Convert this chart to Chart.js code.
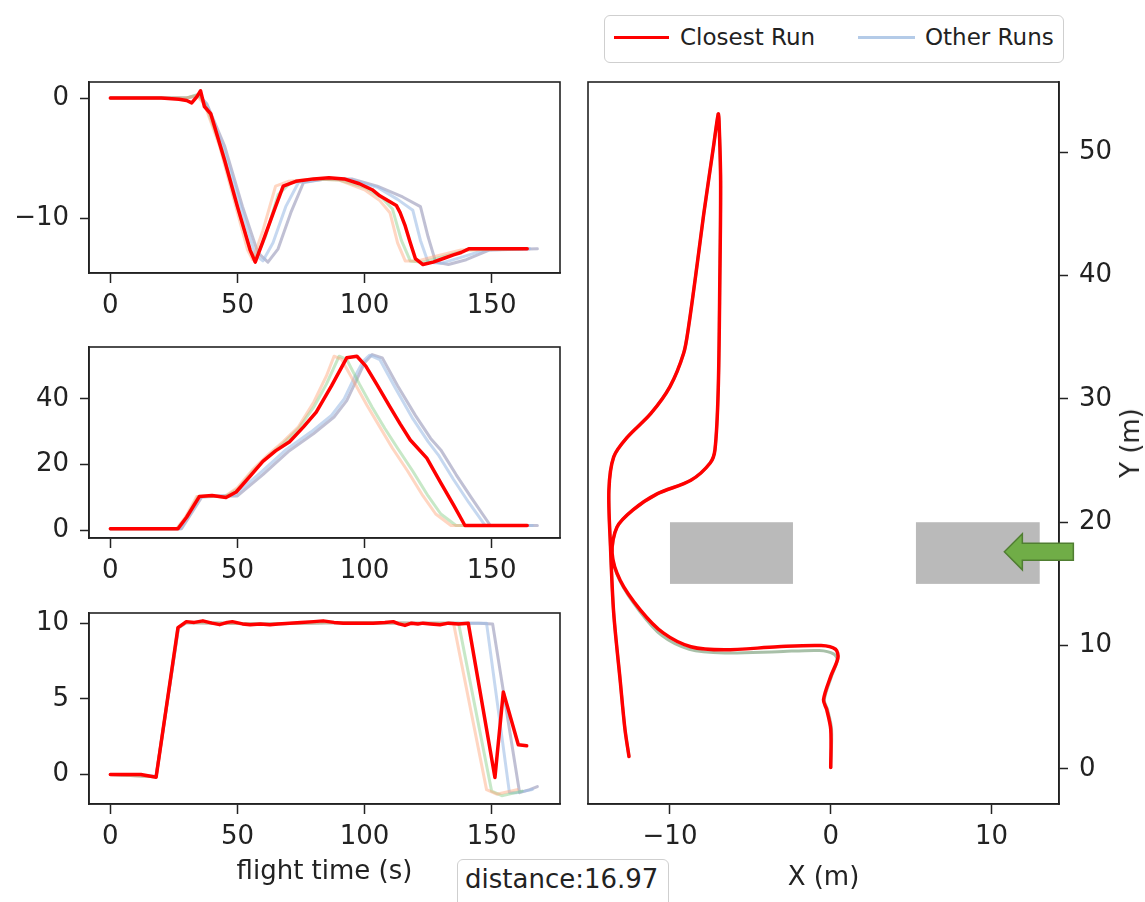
<!DOCTYPE html>
<html>
<head>
<meta charset="utf-8">
<script src="https://cdn.jsdelivr.net/npm/chart.js@4"></script>
<style>
  body { margin:0; background:#fff; width:1145px; height:902px; overflow:hidden; position:relative; font-family:'DejaVu Sans', sans-serif; color:#222; }
  canvas { position:absolute; }
  .box { position:absolute; border:1px solid #cfcfcf; border-radius:6px; background:#fff; }
  .legline { position:absolute; height:3px; }
  .legtxt { position:absolute; font-size:23px; line-height:28px; }
</style>
</head>
<body>
<canvas id="cx" width="570" height="250" style="left:0;top:72px"></canvas>
<canvas id="cy" width="570" height="250" style="left:0;top:337px"></canvas>
<canvas id="cz" width="570" height="299" style="left:0;top:603px"></canvas>
<canvas id="cxy" width="567" height="830" style="left:578px;top:72px"></canvas>

<div class="box" style="left:604px;top:15px;width:458px;height:46px;"></div>
<div class="legline" style="left:614px;top:36px;width:55px;background:#ff0000;"></div>
<div class="legtxt" style="left:680px;top:23px;">Closest Run</div>
<div class="legline" style="left:858px;top:36px;width:57px;background:#b4cbe8;"></div>
<div class="legtxt" style="left:925px;top:23px;">Other Runs</div>

<div class="box" style="left:457px;top:859px;width:210px;height:60px;"></div>
<div style="position:absolute;left:465px;top:864px;font-size:26px;line-height:30px;">distance:16.97</div>
<div style="position:absolute;left:1130px;top:443px;font-size:26px;white-space:nowrap;transform:translate(-50%,-50%) rotate(-90deg);">Y (m)</div>

<script>
// ---- time axis ticks / tick labels
const timeTicks = [0, 50, 100, 150];
const xTicks = [-10, 0];
const yTicks = [0, 20, 40];
const zTicks = [0, 5, 10];
const mapXTicks = [-10, 0, 10];
const mapYTicks = [0, 10, 20, 30, 40, 50];

// ---- X position vs flight time
const closestTx = [0, 10, 20, 27, 30, 32, 34, 35.5, 37, 39.5, 45, 50, 55, 57, 60, 65, 68, 73, 80, 86, 92, 98, 103, 106, 110, 112.5, 114, 116, 118, 120, 123, 127, 131, 135, 138, 141, 150, 164];
const closestX  = [0, 0, 0, -0.1, -0.2, -0.4, 0.1, 0.6, -0.7, -1.3, -5.2, -9, -12.6, -13.6, -11.9, -9, -7.3, -6.9, -6.7, -6.6, -6.7, -7.1, -7.6, -8.1, -8.6, -8.9, -9.5, -10.6, -12.0, -13.3, -13.8, -13.6, -13.3, -13.0, -12.8, -12.5, -12.5, -12.5];
const runATx = [0, 30, 34, 37, 43, 50, 54, 56, 60, 65, 70, 80, 90, 100, 106, 110, 113, 116, 121, 128, 138, 160];
const runAX  = [0, 0, 0.2, -0.5, -4, -9.5, -12.6, -13.4, -11, -7.3, -6.9, -6.7, -6.8, -7.6, -8.5, -9.5, -12, -13.5, -13.5, -13.1, -12.6, -12.5];
const runBTx = [0, 30, 34.5, 37.5, 44, 50, 55, 57, 61, 66, 71, 80, 90, 100, 107, 111, 114.5, 118, 123, 130, 140, 162];
const runBX  = [0, 0, 0.3, -0.6, -4.3, -9, -12.6, -13.4, -11.5, -8, -7, -6.7, -6.8, -7.4, -8.3, -9.2, -11.8, -13.5, -13.6, -13.2, -12.6, -12.5];
const runCTx = [0, 30, 35, 38, 45, 52, 57, 60, 64, 69, 74, 85, 95, 105, 113, 119, 122, 125, 130, 138, 147, 165];
const runCX  = [0, 0, 0.3, -0.6, -4.5, -9.5, -13, -13.5, -12, -9, -7, -6.7, -6.8, -7.4, -8.4, -9.3, -11.8, -13.6, -13.7, -13.2, -12.6, -12.5];
const runDTx = [0, 30, 35, 38, 45, 52, 58, 62, 66, 71, 76, 85, 95, 105, 115, 122, 125, 128, 133, 140, 149, 168];
const runDX  = [0, 0, 0.2, -0.5, -4, -9, -12.8, -13.6, -12.5, -9.5, -7.0, -6.7, -6.7, -7.3, -8.2, -9.0, -11.5, -13.6, -13.8, -13.4, -12.6, -12.5];

// ---- Y position vs flight time
const closestTy = [0, 26.6, 30, 35, 40, 45.5, 49.5, 55, 60, 65, 70.5, 76, 81, 87, 93, 97, 100.5, 105, 110, 114, 118, 124.5, 130, 135, 139.5, 150, 164];
const closestY  = [0.5, 0.5, 4, 10.3, 10.6, 10, 11.7, 16.5, 21, 24.2, 27, 31.5, 36, 44, 52.5, 53, 50, 44.2, 37.6, 32.4, 27.5, 22, 14.5, 7.8, 1.5, 1.5, 1.5];
const runATy = [0, 26, 29.5, 34, 40, 45, 50, 56, 62, 68, 74, 80, 85, 88, 91, 96, 101, 106, 111, 117, 123, 128, 134, 160];
const runAY  = [0.5, 0.5, 4, 10.3, 10.5, 10.3, 13, 18.5, 23, 27, 31.5, 39, 47, 53, 52, 45, 38, 31.5, 25, 18, 10.5, 5, 1.5, 1.5];
const runBTy = [0, 26.3, 30, 34.5, 40, 45, 50, 56, 62, 68, 74, 80, 85, 90, 93, 98, 103, 108, 113, 119, 125, 130, 136, 162];
const runBY  = [0.5, 0.5, 4.2, 10.3, 10.5, 10.2, 12.5, 18, 22.5, 26.5, 31, 37.5, 44.5, 53, 52, 44.5, 37.5, 31, 25, 18, 10.5, 5, 1.5, 1.5];
const runCTy = [0, 27.5, 35.5, 41, 49, 59, 69, 79, 87, 92, 96, 99.5, 102, 106, 112, 119, 125, 129, 135, 141, 147.5, 166];
const runCY  = [0.5, 0.5, 10.2, 10.5, 10.8, 17.5, 24.5, 30, 35, 40, 46.5, 51.5, 53.3, 52, 43.5, 34, 27, 23, 15.5, 8.5, 1.5, 1.5];
const runDTy = [0, 28, 36, 42, 50, 60, 70, 80, 88, 93, 97, 100, 103, 107, 113, 120, 126, 130, 136, 142, 149.5, 168];
const runDY  = [0.5, 0.5, 10.2, 10.4, 10.5, 17, 24, 29.5, 34.5, 39.5, 46, 51, 53.5, 52.5, 44, 35, 28, 24.5, 17, 10, 1.5, 1.5];

// ---- altitude vs flight time
const closestTz = [0, 12, 18, 26.6, 29.9, 33, 36.4, 40, 43, 46, 48, 52, 55, 59, 62.8, 66, 70.6, 75, 80, 83.7, 88, 91.6, 97, 103.4, 108, 111.3, 113.5, 115.9, 118.5, 121, 123, 126, 129.7, 133, 137, 140.8, 151.3, 154.6, 160.5, 163.8];
const closestZ  = [0, 0, -0.18, 9.7, 10.1, 10.05, 10.15, 10.0, 9.9, 10.05, 10.1, 9.95, 9.9, 9.95, 9.9, 9.95, 10.0, 10.05, 10.1, 10.15, 10.05, 10.0, 10.0, 10.0, 10.05, 10.1, 9.95, 9.85, 10.0, 9.95, 10.0, 9.95, 9.9, 10.0, 9.95, 10.0, -0.2, 5.45, 1.96, 1.9];
const runATz = [0, 18, 26.6, 30, 60, 90, 120, 135, 148, 152, 160];
const runAZ  = [0, -0.15, 9.7, 10.05, 9.95, 10.05, 10.0, 10.0, -1.0, -1.3, -1.0];
const runBTz = [0, 18, 26.6, 30, 60, 90, 120, 137, 150, 154, 162];
const runBZ  = [0, -0.15, 9.7, 10.05, 9.95, 10.05, 10.0, 10.0, -1.1, -1.4, -1.1];
const runCTz = [0, 18, 26.8, 30, 60, 90, 120, 145, 148, 157, 160, 166];
const runCZ  = [0, -0.1, 9.7, 10.05, 9.95, 10.05, 10.0, 10.0, 10.0, -1.2, -1.2, -1.0];
const runDTz = [0, 18, 26.8, 30, 60, 90, 120, 145, 150.4, 161, 165, 168];
const runDZ  = [0, -0.15, 9.7, 10.05, 9.95, 10.05, 10.0, 10.0, 9.95, -1.2, -1.0, -0.8];

// ---- top-down trajectory (X, Y in metres)
const closestMapX = [0, 0, -0.25, -0.45, 0, 0.45, 0.3, -0.6, -3.3, -6.6, -8.7, -10.4, -11.85, -13.1, -13.6, -13.3, -12.3, -10.8, -8.7, -7.5, -7.2, -7.0, -6.9, -6.85, -6.95, -7.0, -7.3, -7.9, -8.3, -8.85, -9.15, -10.0, -11.2, -12.65, -13.5, -13.8, -13.7, -13.5, -13.1, -12.8, -12.55];
const closestMapY = [0.1, 3.2, 4.8, 5.6, 7.5, 9.0, 9.7, 10.0, 9.9, 9.65, 9.9, 11.0, 12.9, 15.3, 17.5, 19.6, 21.0, 22.3, 23.4, 24.8, 25.9, 30.7, 39.6, 47.7, 52.6, 53.1, 50.4, 45.0, 41.0, 35.8, 33.7, 31.0, 28.8, 26.9, 25.3, 22.6, 18.0, 12.6, 7.2, 3.2, 1.0];
const otherMapX = [0, 0.05, -0.2, -0.4, 0.05, 0.4, 0.2, -0.7, -3.3, -6.6, -8.8, -10.5, -11.9, -13.1, -13.6, -13.3, -12.3, -10.8, -8.7, -7.5, -7.2, -7.0, -6.9, -6.85, -6.95, -7.0, -7.3, -7.9, -8.3, -8.85, -9.15, -10.0, -11.2, -12.65, -13.5, -13.8, -13.7, -13.5, -13.1, -12.8, -12.55];
const otherMapY = [0.1, 3.2, 4.8, 5.6, 7.5, 8.8, 9.3, 9.6, 9.5, 9.4, 9.7, 10.8, 12.8, 15.2, 17.4, 19.6, 21.0, 22.3, 23.4, 24.8, 25.9, 30.7, 39.6, 47.7, 52.6, 53.1, 50.4, 45.0, 41.0, 35.8, 33.7, 31.0, 28.8, 26.9, 25.3, 22.6, 18.0, 12.6, 7.2, 3.2, 1.0];

// obstacles: [xMin, xMax, yMin, yMax]
const obstacles = [[-10, -2.35, 15, 20], [5.3, 13, 15, 20]];
const arrowTip = [10.8, 17.6];

const runColors = ['#ff0000', 'rgba(255,165,120,0.45)', 'rgba(130,205,130,0.45)', 'rgba(160,190,230,0.6)', 'rgba(130,130,170,0.5)'];

Chart.defaults.font.family = "'DejaVu Sans', sans-serif";
Chart.defaults.font.size = 26;
Chart.defaults.color = '#222';

const pts = (xs, ys) => xs.map((v, i) => ({ x: v, y: ys[i] }));
const fmt = v => String(v).replace('-', '\u2212');

const framePlugin = {
  id: 'frame',
  afterDraw(chart) {
    const { ctx, chartArea: a } = chart;
    ctx.save();
    ctx.strokeStyle = '#222';
    ctx.lineWidth = 1.6;
    ctx.strokeRect(a.left, a.top, a.right - a.left, a.bottom - a.top);
    ctx.restore();
  }
};

function axis(min, max, ticks, pos, size, tickPad, title) {
  const horiz = pos === 'bottom';
  return {
    type: 'linear', position: pos, min: min, max: max,
    afterBuildTicks: s => { s.ticks = ticks.map(v => ({ value: v })); },
    afterFit: s => {
      if (horiz) s.height = size; else s.width = size;
      // keep the plot box where it is, labels may hang outside
      s.paddingTop = 0; s.paddingBottom = 0; s.paddingLeft = 0; s.paddingRight = 0;
    },
    grid: { drawOnChartArea: false, drawTicks: true, tickLength: horiz ? 10 : 9, tickColor: '#222', tickWidth: 1.5 },
    border: { display: true, color: '#222', width: 1.6 },
    ticks: { callback: fmt, padding: tickPad, maxRotation: 0, autoSkip: false },
    title: title ? { display: true, text: title.text, padding: { top: 0, bottom: title.pad } } : { display: false }
  };
}

function line(data, color, width) {
  return { data: data, borderColor: color, borderWidth: width, showLine: true, pointRadius: 0,
    tension: 0, borderJoinStyle: 'round', borderCapStyle: 'round', fill: false };
}

function timeChart(id, series, yMin, yMax, yTickVals, title, xHeight) {
  new Chart(document.getElementById(id), {
    type: 'scatter',
    data: { datasets: series.map((s, i) => line(pts(s[0], s[1]), runColors[i], i === 0 ? 3.5 : 3)) },
    options: {
      responsive: false, animation: false,
      layout: { padding: { top: 10, right: 10, left: 0, bottom: 0 } },
      plugins: { legend: { display: false }, tooltip: { enabled: false } },
      scales: {
        x: axis(-8.4, 176.9, timeTicks, 'bottom', xHeight, 8, title),
        y: axis(yMin, yMax, yTickVals, 'left', 89, 11)
      }
    },
    plugins: [framePlugin]
  });
}

timeChart('cx', [[closestTx, closestX], [runATx, runAX], [runBTx, runBX], [runCTx, runCX], [runDTx, runDX]], -14.5, 1.33, xTicks, null, 49);
timeChart('cy', [[closestTy, closestY], [runATy, runAY], [runBTy, runBY], [runCTy, runCY], [runDTy, runDY]], -2.3, 55.8, yTicks, null, 49);
timeChart('cz', [[closestTz, closestZ], [runATz, runAZ], [runBTz, runBZ], [runCTz, runCZ], [runDTz, runDZ]], -1.95, 10.67, zTicks, { text: 'flight time (s)', pad: 14 }, 98);

const mapPlugin = {
  id: 'mapExtras',
  beforeDatasetsDraw(chart) {
    const { ctx, scales: { x, y } } = chart;
    ctx.save();
    ctx.fillStyle = '#bababa';
    obstacles.forEach(o => {
      const l = x.getPixelForValue(o[0]), r = x.getPixelForValue(o[1]);
      const t = y.getPixelForValue(o[3]), b = y.getPixelForValue(o[2]);
      ctx.fillRect(l, t, r - l, b - t);
    });
    ctx.restore();
  },
  afterDraw(chart) {
    const { ctx, scales: { x, y } } = chart;
    const tx = x.getPixelForValue(arrowTip[0]), ty = y.getPixelForValue(arrowTip[1]);
    ctx.save();
    ctx.beginPath();
    ctx.moveTo(tx, ty);
    ctx.lineTo(tx + 18, ty - 18);
    ctx.lineTo(tx + 18, ty - 8.5);
    ctx.lineTo(tx + 69, ty - 8.5);
    ctx.lineTo(tx + 69, ty + 8.5);
    ctx.lineTo(tx + 18, ty + 8.5);
    ctx.lineTo(tx + 18, ty + 18);
    ctx.closePath();
    ctx.fillStyle = '#70ad47';
    ctx.strokeStyle = '#507e32';
    ctx.lineWidth = 1.5;
    ctx.fill();
    ctx.stroke();
    ctx.restore();
  }
};

new Chart(document.getElementById('cxy'), {
  type: 'scatter',
  data: {
    datasets: [
      Object.assign(line(pts(closestMapX, closestMapY), runColors[0], 3.5), { tension: 0.3 }),
      Object.assign(line(pts(otherMapX, otherMapY), 'rgba(110,150,110,0.6)', 3), { tension: 0.3 })
    ]
  },
  options: {
    responsive: false, animation: false,
    layout: { padding: { top: 10, right: 0, left: 10, bottom: 0 } },
    plugins: { legend: { display: false }, tooltip: { enabled: false } },
    scales: {
      x: axis(-15.1, 14.2, mapXTicks, 'bottom', 98, 8, { text: 'X (m)', pad: 8 }),
      y: axis(-2.85, 55.7, mapYTicks, 'right', 86, 11)
    }
  },
  plugins: [framePlugin, mapPlugin]
});
</script>
</body>
</html>
